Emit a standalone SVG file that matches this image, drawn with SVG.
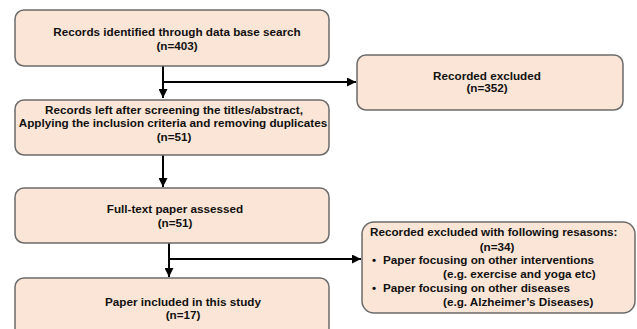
<svg xmlns="http://www.w3.org/2000/svg" width="637" height="329" viewBox="0 0 637 329">
<style>
.box{fill:#fbe5d6;stroke:#6b6b6b;stroke-width:1.5}
.t{font-family:"Liberation Sans",Arial,sans-serif;font-weight:bold;font-size:11.7px;fill:#111}
.c{text-anchor:middle}
.ln{stroke:#000;stroke-width:2;fill:none}
</style>
<defs>
<marker id="ah" viewBox="0 0 10 10" refX="10" refY="5" markerWidth="4.5" markerHeight="4.5" orient="auto" markerUnits="strokeWidth">
<path d="M0,0 L10,5 L0,10 z" fill="#000"/>
</marker>
</defs>
<rect width="637" height="329" fill="#fff"/>
<g id="connectors">
<path class="ln" d="M163,66 V98" marker-end="url(#ah)"/>
<path class="ln" d="M163,82 H356" marker-end="url(#ah)"/>
<path class="ln" d="M163,155 V187" marker-end="url(#ah)"/>
<path class="ln" d="M169,243 V277" marker-end="url(#ah)"/>
<path class="ln" d="M169,259 H361" marker-end="url(#ah)"/>
</g>
<g id="n1">
<rect class="box" x="15" y="10" width="314" height="56" rx="9"/>
<text class="t c" x="177" y="36">Records identified through data base search</text>
<text class="t c" x="177" y="50">(n=403)</text>
</g>
<g id="n2">
<rect class="box" x="357" y="55" width="266" height="55" rx="9"/>
<text class="t c" x="487" y="80">Recorded excluded</text>
<text class="t c" x="487" y="92">(n=352)</text>
</g>
<g id="n3">
<rect class="box" x="15" y="100" width="314" height="55" rx="9"/>
<text class="t c" x="174" y="114">Records left after screening the titles/abstract,</text>
<text class="t c" x="173" y="127">Applying the inclusion criteria and removing duplicates</text>
<text class="t c" x="174" y="141">(n=51)</text>
</g>
<g id="n4">
<rect class="box" x="15" y="188" width="314" height="55" rx="9"/>
<text class="t c" x="175" y="213">Full-text paper assessed</text>
<text class="t c" x="175" y="227">(n=51)</text>
</g>
<g id="n5">
<rect class="box" x="15" y="278" width="314" height="60" rx="9"/>
<text class="t c" x="183" y="306">Paper included in this study</text>
<text class="t c" x="183" y="319">(n=17)</text>
</g>
<g id="n6">
<rect class="box" x="362" y="222" width="273" height="91" rx="12"/>
<text class="t" x="370" y="236">Recorded excluded with following resasons:</text>
<text class="t c" x="497" y="251">(n=34)</text>
<text class="t" x="372" y="264">•</text>
<text class="t" x="383" y="264">Paper focusing on other interventions</text>
<text class="t" x="443" y="278">(e.g. exercise and yoga etc)</text>
<text class="t" x="372" y="292">•</text>
<text class="t" x="383" y="292">Paper focusing on other diseases</text>
<text class="t" x="443" y="306">(e.g. Alzheimer’s Diseases)</text>
</g>
</svg>
